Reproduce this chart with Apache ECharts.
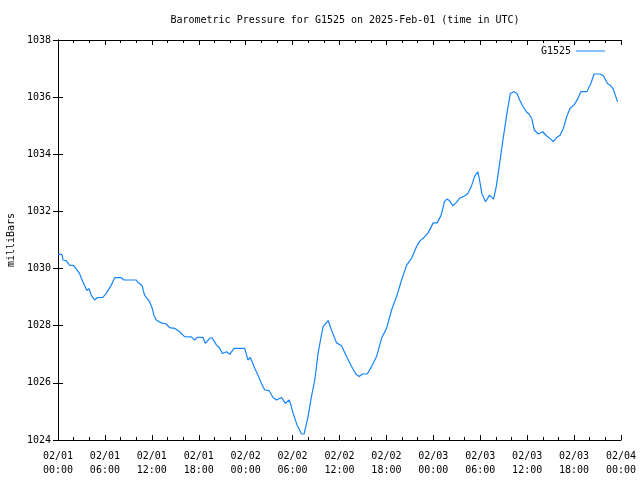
<!DOCTYPE html>
<html>
<head>
<meta charset="utf-8">
<script src="https://cdn.jsdelivr.net/npm/echarts@6/dist/echarts.min.js"></script>
<style>html,body{margin:0;padding:0;background:#fff}#c{width:640px;height:480px}</style>
</head>
<body>
<div id="c"></div>
<script>
var titleText = 'Barometric Pressure for G1525 on 2025-Feb-01 (time in UTC)';
var seriesName = 'G1525';
var yName = 'milliBars';
var xTickLabels = ['02/01\n00:00','02/01\n06:00','02/01\n12:00','02/01\n18:00','02/02\n00:00','02/02\n06:00','02/02\n12:00','02/02\n18:00','02/03\n00:00','02/03\n06:00','02/03\n12:00','02/03\n18:00','02/04\n00:00'];
// hours since 2025-02-01 00:00 UTC
var hours = [0,0.5,0.65,1.05,1.47,2.02,2.3,2.75,3.17,3.69,3.95,4.25,4.67,5.02,5.74,6.17,6.81,7.24,8.09,8.43,10.01,10.2,10.73,11.07,11.71,12.06,12.26,12.56,13.2,13.84,14.27,14.91,15.55,16.19,17.05,17.48,17.82,18.54,18.85,19.4,19.7,20.26,20.68,21.03,21.54,21.96,22.51,23.88,24.17,24.3,24.6,25.16,25.58,26.02,26.44,26.99,27.5,27.94,28.58,29.09,29.55,29.73,30.07,30.58,31.14,31.47,31.98,32.41,32.84,33.26,33.57,33.9,34.54,34.98,35.62,36.26,36.9,37.54,38.09,38.51,38.95,39.54,40.1,40.74,41.38,42.02,42.66,43.3,43.94,44.58,45.22,45.86,46.28,46.7,47.34,47.98,48.5,49.0,49.42,49.72,50.07,50.49,50.93,51.35,51.99,52.41,52.85,53.27,53.69,53.91,54.2,54.68,55.19,55.7,56.05,56.48,56.9,57.41,57.85,58.27,58.7,59.04,59.47,59.9,60.24,60.58,60.91,61.42,61.98,62.5,63.01,63.35,63.78,64.21,64.63,65.06,65.49,66.0,66.43,66.86,67.63,68.14,68.56,69.33,69.76,70.27,70.62,71.04,71.26,71.56];
var pressure = [1030.50,1030.50,1030.30,1030.28,1030.12,1030.10,1030.00,1029.83,1029.54,1029.23,1029.30,1029.07,1028.90,1028.98,1028.99,1029.13,1029.42,1029.68,1029.68,1029.60,1029.60,1029.52,1029.42,1029.07,1028.84,1028.60,1028.37,1028.20,1028.10,1028.06,1027.93,1027.91,1027.79,1027.62,1027.61,1027.50,1027.59,1027.59,1027.38,1027.56,1027.58,1027.33,1027.21,1027.03,1027.09,1027.00,1027.21,1027.21,1026.92,1026.80,1026.89,1026.51,1026.27,1025.98,1025.75,1025.73,1025.49,1025.40,1025.49,1025.28,1025.40,1025.28,1024.93,1024.52,1024.21,1024.21,1024.82,1025.52,1026.10,1027.03,1027.50,1027.97,1028.18,1027.85,1027.40,1027.30,1026.92,1026.57,1026.31,1026.22,1026.31,1026.31,1026.57,1026.92,1027.56,1027.91,1028.55,1029.02,1029.60,1030.12,1030.36,1030.77,1030.97,1031.06,1031.25,1031.60,1031.60,1031.87,1032.34,1032.43,1032.38,1032.20,1032.31,1032.46,1032.54,1032.63,1032.87,1033.22,1033.39,1033.10,1032.63,1032.34,1032.57,1032.43,1032.87,1033.68,1034.50,1035.43,1036.13,1036.19,1036.13,1035.90,1035.67,1035.49,1035.40,1035.26,1034.85,1034.71,1034.79,1034.64,1034.53,1034.44,1034.59,1034.67,1034.91,1035.32,1035.61,1035.73,1035.92,1036.19,1036.19,1036.48,1036.81,1036.81,1036.74,1036.48,1036.42,1036.27,1036.08,1035.84];

var FONT = '"DejaVu Sans Mono", "Liberation Mono", monospace';
var LINE_COLOR = '#1484ff';
var data = hours.map(function (h, i) { return [h, pressure[i]]; });
var chart = echarts.init(document.getElementById('c'), null, {renderer: 'canvas'});
var axisLineStyle = {show: true, lineStyle: {color: '#000', width: 1}};
var xCommon = {
  type: 'value', min: 0, max: 72, interval: 6,
  axisLine: axisLineStyle,
  axisTick: {show: true, inside: true, length: 5, lineStyle: {color: '#000'}},
  minorTick: {show: true, splitNumber: 3, length: 3, lineStyle: {color: '#000'}},
  splitLine: {show: false}
};
var yCommon = {
  type: 'value', min: 1024, max: 1038, interval: 2,
  axisLine: axisLineStyle,
  axisTick: {show: true, inside: true, length: 5, lineStyle: {color: '#000'}},
  splitLine: {show: false}
};
chart.setOption({
  animation: false,
  backgroundColor: '#fff',
  title: {
    text: titleText, left: 340, textAlign: 'center', top: 10,
    textStyle: {fontFamily: FONT, fontSize: 10, fontWeight: 'normal', color: '#000'}
  },
  legend: {
    data: [{name: seriesName, icon: 'rect'}], right: 30, top: 41, align: 'right',
    itemWidth: 29, itemHeight: 1,
    textStyle: {fontFamily: FONT, fontSize: 10, color: '#000'}
  },
  grid: {left: 58, right: 19, top: 40, bottom: 40, containLabel: false, outerBoundsMode: 'none'},
  xAxis: [
    Object.assign({}, xCommon, {
      position: 'bottom',
      axisLabel: {
        margin: 9, fontFamily: FONT, fontSize: 10, color: '#000', lineHeight: 14,
        formatter: function (v) { return xTickLabels[Math.round(v / 6)]; }
      }
    }),
    Object.assign({}, xCommon, {position: 'top', axisLabel: {show: false}})
  ],
  yAxis: [
    Object.assign({}, yCommon, {
      position: 'left',
      name: yName, nameLocation: 'middle', nameGap: 40, nameRotate: 90,
      nameTextStyle: {fontFamily: FONT, fontSize: 10, color: '#000'},
      axisLabel: {margin: 7, fontFamily: FONT, fontSize: 10, color: '#000',
        formatter: function (v) { return String(v); }}
    }),
    Object.assign({}, yCommon, {position: 'right', axisLabel: {show: false}})
  ],
  series: [{
    name: seriesName, type: 'line', data: data, symbol: 'none', showSymbol: false,
    xAxisIndex: 0, yAxisIndex: 0,
    lineStyle: {color: LINE_COLOR, width: 1.2}, itemStyle: {color: LINE_COLOR}
  }]
});
</script>
</body>
</html>
